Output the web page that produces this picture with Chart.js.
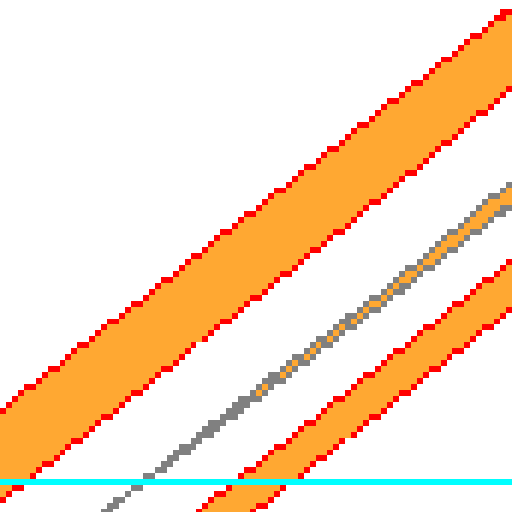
<!DOCTYPE html>
<html><head><meta charset="utf-8">
<script src="https://cdn.jsdelivr.net/npm/chart.js@4.4.1/dist/chart.umd.min.js"></script>
<style>
html,body{margin:0;padding:0;background:#fff;overflow:hidden;width:512px;height:512px}
#wrap{position:absolute;left:0;top:-3px}
canvas{image-rendering:pixelated;image-rendering:crisp-edges}
</style></head><body>
<div id="wrap"><canvas id="c" width="86" height="87" style="width:512px;height:517.953px"></canvas></div>
<script>
// Wide band (upper-left)
const wideUpperX = [-5, 105];
const wideUpperY = [15.80, 102.37];
const wideLowerX = [-5, 0, 39.06, 67.38, 100, 105];
const wideLowerY = [-2.05, 1.95, 33.20, 55.66, 82.81, 86.97];
// Narrow middle band (grey edges)
const midUpperX = [17, 48.83, 74.80, 100, 105];
const midUpperY = [-2.76, 23.0, 42.97, 64.65, 68.95];
const midLowerX = [17, 48.83, 74.80, 100, 105];
const midLowerY = [-2.76, 21.2, 40.82, 60.04, 63.85];
// Lower band
const lowUpperX = [30, 105];
const lowUpperY = [-6.84, 52.93];
const lowLowerX = [30, 105];
const lowLowerY = [-15.38, 43.71];
// Horizontal reference line
const refX = [-5, 105];
const refY = [5.86, 5.86];

const ORANGE = 'rgb(255,168,50)', RED = 'rgb(255,0,0)', GREY = 'rgb(128,128,128)', CYAN = 'rgb(0,255,255)';
const pts = (xs, ys) => xs.map((x, i) => ({x, y: ys[i]}));

const palette = [[255,255,255],[255,168,50],[255,0,0],[128,128,128],[0,255,255]];
const snapPlugin = {
  id: 'snap',
  afterDraw(chart) {
    const ctx = chart.ctx, w = chart.canvas.width, h = chart.canvas.height;
    const img = ctx.getImageData(0, 0, w, h), d = img.data;
    for (let i = 0; i < d.length; i += 4) {
      const a = d[i+3] / 255;
      const c = [d[i]*a + 255*(1-a), d[i+1]*a + 255*(1-a), d[i+2]*a + 255*(1-a)];
      let best = null, bestErr = Infinity;
      for (let p = 0; p < palette.length; p++) {
        for (let q = p + 1; q < palette.length; q++) {
          const A = palette[p], B = palette[q];
          const v = [A[0]-B[0], A[1]-B[1], A[2]-B[2]];
          const vv = v[0]*v[0] + v[1]*v[1] + v[2]*v[2];
          let t = ((c[0]-B[0])*v[0] + (c[1]-B[1])*v[1] + (c[2]-B[2])*v[2]) / vv;
          t = Math.max(0, Math.min(1, t));
          const e0 = B[0] + t*v[0] - c[0], e1 = B[1] + t*v[1] - c[1], e2 = B[2] + t*v[2] - c[2];
          const err = e0*e0 + e1*e1 + e2*e2;
          if (err < bestErr) { bestErr = err; best = t >= 0.5 ? A : B; }
        }
      }
      d[i] = best[0]; d[i+1] = best[1]; d[i+2] = best[2]; d[i+3] = 255;
    }
    ctx.putImageData(img, 0, 0);
  }
};

new Chart(document.getElementById('c'), {
  type: 'line',
  data: {
    datasets: [
      {data: pts(wideUpperX, wideUpperY), borderColor: RED, backgroundColor: ORANGE, fill: '+1'},
      {data: pts(wideLowerX, wideLowerY), borderColor: RED, fill: false},
      {data: pts(midUpperX, midUpperY), borderColor: GREY, backgroundColor: ORANGE, fill: '+1'},
      {data: pts(midLowerX, midLowerY), borderColor: GREY, fill: false},
      {data: pts(lowUpperX, lowUpperY), borderColor: RED, backgroundColor: ORANGE, fill: '+1'},
      {data: pts(lowLowerX, lowLowerY), borderColor: RED, fill: false},
      {data: pts(refX, refY), borderColor: CYAN, fill: false, order: -1}
    ]
  },
  options: {
    responsive: false,
    devicePixelRatio: 1,
    animation: false,
    events: [],
    layout: {padding: 0},
    plugins: {
      legend: {display: false},
      tooltip: {enabled: false},
      filler: {drawTime: 'beforeDatasetsDraw'}
    },
    elements: {point: {radius: 0}, line: {tension: 0, borderWidth: 1}},
    scales: {
      x: {type: 'linear', display: false, min: 0, max: 100},
      y: {type: 'linear', display: false, min: -0.572, max: 100.586}
    }
  },
  plugins: [snapPlugin]
});
</script>
</body></html>
